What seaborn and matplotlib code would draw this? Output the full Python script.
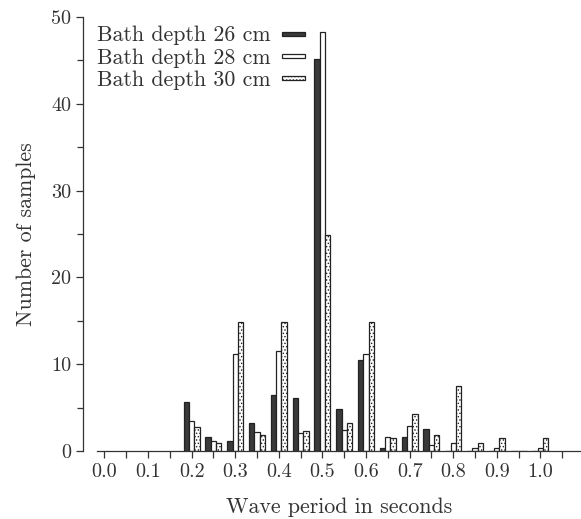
import pandas as pd
import matplotlib.pyplot as plt
import matplotlib.ticker as mticker
from matplotlib.patches import Rectangle
from matplotlib.legend_handler import HandlerPatch
import seaborn as sns

# Data
periods = [0.20, 0.25, 0.30, 0.35, 0.40, 0.45, 0.50, 0.55, 0.60,
           0.65, 0.70, 0.75, 0.80, 0.85, 0.90, 0.95, 1.00]
depth_26 = [5.7, 1.6, 1.2, 3.2, 6.4, 6.05, 45.2, 4.8, 10.5,
            0.4, 1.65, 2.5, 0, 0, 0, 0, 0]
depth_28 = [3.4, 1.2, 11.2, 2.2, 11.5, 2.1, 48.3, 2.45, 11.2,
            1.6, 2.9, 0.65, 0.95, 0.35, 0.35, 0, 0.35]
depth_30 = [2.8, 0.9, 14.9, 1.9, 14.9, 2.3, 24.9, 3.25, 14.9,
            1.5, 4.3, 1.9, 7.5, 0.9, 1.45, 0, 1.45]
series_names = ['Bath depth 26 cm', 'Bath depth 28 cm', 'Bath depth 30 cm']
x_ticks = [0.0, 0.1, 0.2, 0.3, 0.4, 0.5, 0.6, 0.7, 0.8, 0.9, 1.0]

df = pd.DataFrame({
    'period': periods * 3,
    'count': depth_26 + depth_28 + depth_30,
    'depth': [series_names[0]] * len(periods) + [series_names[1]] * len(periods)
             + [series_names[2]] * len(periods),
})

sns.set_style('ticks')
plt.rcParams['font.family'] = ['cmr10', 'DejaVu Serif']
plt.rcParams['mathtext.fontset'] = 'cm'
plt.rcParams['axes.unicode_minus'] = False
plt.rcParams['hatch.linewidth'] = 0.6

fig = plt.figure(figsize=(5.81, 5.19), dpi=100)
ax = fig.add_axes([97 / 581, 1 - 451 / 519, 1 - 97 / 581, (451 - 17) / 519])

sns.barplot(data=df, x='period', y='count', hue='depth', native_scale=True,
            width=0.73, palette=['#3a3a3a', 'white', 'white'],
            edgecolor='#222222', linewidth=0.9, ax=ax, legend=False)

# dotted pattern for 30 cm
for bar in ax.containers[2]:
    bar.set_hatch('.....')

ax.set_xlim(-0.017, 1.093)
ax.set_ylim(0, 50)
ax.set_xticks(x_ticks)
ax.set_xticklabels([f'{v:.1f}' for v in x_ticks])
ax.xaxis.set_minor_locator(mticker.FixedLocator([0.05 + 0.1 * i for i in range(11)]))
ax.set_yticks([0, 10, 20, 30, 40, 50])
ax.yaxis.set_minor_locator(mticker.MultipleLocator(5))
ax.tick_params(axis='both', which='major', labelsize=14.5, length=5, width=0.9,
               color='#333333', labelcolor='#333333', direction='out')
ax.tick_params(axis='both', which='minor', length=4, width=0.9, color='#333333',
               direction='out')
ax.tick_params(axis='x', which='minor', length=5)

sns.despine(ax=ax)
ax.spines['left'].set_position(('outward', 10))
for s in ['left', 'bottom']:
    ax.spines[s].set_linewidth(0.9)
    ax.spines[s].set_color('#333333')

ax.set_xlabel('Wave period in seconds', fontsize=15.8, color='#333333', labelpad=12)
ax.set_ylabel('Number of samples', fontsize=15.8, color='#333333', labelpad=11)


# thin flat legend keys like the original
def flat_key(legend, orig_handle, xdescent, ydescent, width, height, fontsize):
    return Rectangle((-xdescent, -ydescent + height / 2 - 1.5), width, 3.0)


handles = [ax.containers[i].patches[0] for i in range(3)]
ax.legend(handles, series_names, loc='upper left', bbox_to_anchor=(-0.04, 1.025),
          frameon=False, markerfirst=False, fontsize=15.8, handlelength=1.05,
          handletextpad=0.5, labelspacing=0.12, labelcolor='#333333',
          handler_map={Rectangle: HandlerPatch(patch_func=flat_key)})

fig.savefig('out.png', dpi=100)
